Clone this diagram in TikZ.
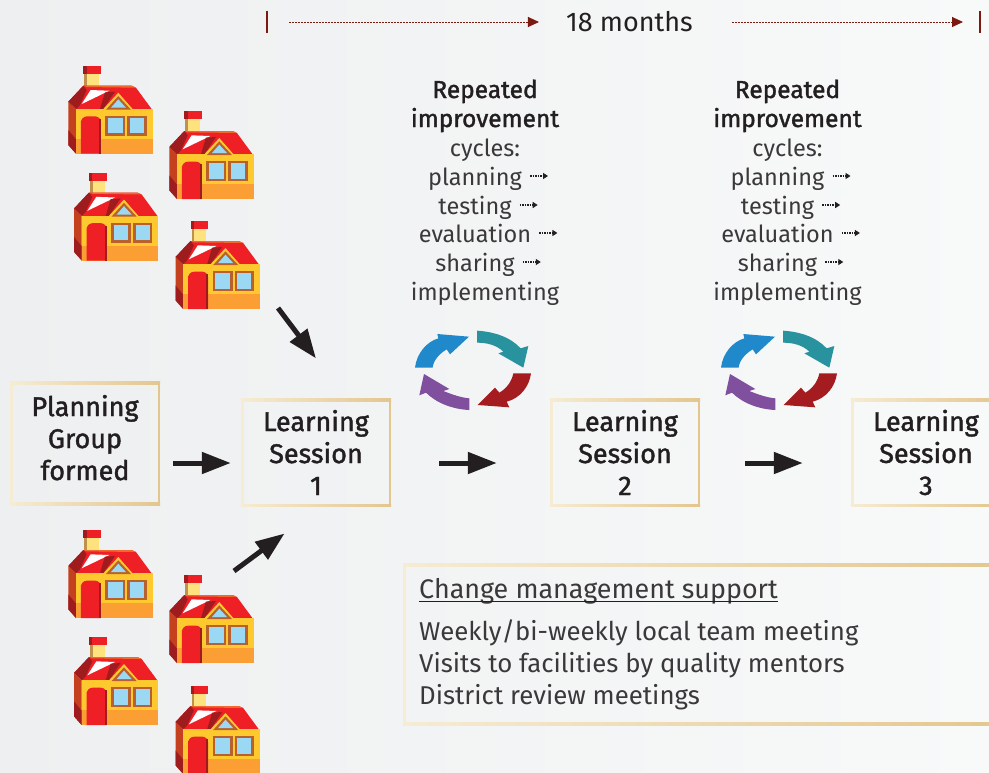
\documentclass[tikz,border=0pt]{standalone}
\usepackage{fontspec}
\setmainfont{Fira Sans}
\newfontfamily\mediumfont[FakeBold=1.5]{Fira Sans}
\usetikzlibrary{arrows.meta}
\definecolor{goldL}{HTML}{F6ECD3}
\definecolor{goldR}{HTML}{E3C68E}
\definecolor{inkdark}{HTML}{231F20}
\definecolor{inklight}{HTML}{3A383A}
\definecolor{wine}{HTML}{7A1A10}
\definecolor{paperL}{HTML}{EEEFF0}
\definecolor{paperR}{HTML}{F8F9F9}
\tikzset{
	stagebox/.style={rectangle,inner sep=0pt,minimum width=150pt,minimum height=108pt,align=center,text=inkdark,font=\mediumfont\fontsize{27}{32}\selectfont},
	plainline/.style={anchor=base,inner sep=0pt,text=inklight,font=\fontsize{23.5}{28}\selectfont},
	boldline/.style={plainline,text=inkdark,font=\mediumfont\fontsize{24.5}{28}\selectfont},
	supportline/.style={anchor=base west,inner sep=0pt,text=inklight,font=\fontsize{25.8}{32}\selectfont},
	flowarrow/.style={-{Triangle[length=29pt,width=21pt]},line width=5pt,color=inkdark},
	timearrow/.style={-{Triangle[length=11pt,width=10pt]},dash pattern=on 2pt off 1pt,line width=1pt,color=wine},
	tinyarrow/.style={-{Triangle[length=5pt,width=6pt]},dash pattern=on 1.5pt off 1pt,line width=1.2pt,color=inkdark},
	house/.pic={
		\begin{scope}[scale=1/3]
		\fill[fill=HouseCap] (45,0) rectangle (98,25);
		\fill[fill=HouseDark] (45,0) rectangle (55,25);
		\fill[fill=HouseFlue] (48,25) rectangle (92,62);
		\fill[fill=HouseTan] (48,25) rectangle (56,62);
		\fill[fill=HouseCap] (0,108) -- (45,60) -- (190,60) -- (203,66) -- (250,130) -- (23,130) -- cycle;
		\fill[fill=HouseTrim] (45,60) -- (190,60) -- (203,66) -- (55,64) -- cycle;
		\fill[fill=HouseDark] (0,108) -- (45,60) -- (55,73) -- (35,118) -- (23,130) -- cycle;
		\fill[fill=white] (40,115) -- (67,73) -- (123,75) -- cycle;
		\fill[fill=HouseDark] (95,130) -- (110,80) -- (140,78) -- (105,130) -- cycle;
		\fill[fill=HouseSide] (0,108) -- (23,130) -- (23,264) -- (0,238) -- cycle;
		\fill[fill=HouseDark] (0,193) -- (23,221) -- (23,264) -- (0,238) -- cycle;
		\fill[fill=HouseWall] (23,130) rectangle (253,219);
		\fill[fill=HouseBase] (23,219) rectangle (253,264);
		\fill[fill=HouseCap] (38,264) -- (38,165) [rounded corners=6pt] -- (38,152) -- (98,152) [sharp corners] -- (98,264) -- cycle;
		\fill[fill=HouseDark] (92,160) rectangle (98,264);
		\fill[fill=HouseFrame] (111,150) rectangle (171,211);
		\fill[fill=HouseGlass] (119,157) rectangle (163,203);
		\fill[fill=HouseFrame] (177,150) rectangle (235,211);
		\fill[fill=HouseGlass] (185,157) rectangle (227,203);
		\fill[fill=HouseWall] (105,130) -- (150,81) -- (193,130) -- cycle;
		\fill[fill=HouseFrame] (113,132) -- (150,91) -- (188,132) -- cycle;
		\fill[fill=HouseGlass] (128,126) -- (150,101) -- (173,126) -- cycle;
		\end{scope}
	},
	cyclearrows/.pic={
		\begin{scope}[scale=1/3]
		\fill[fill=CycleBlue] (45,143) .. controls (50,100) and (80,65) .. (115,55) -- (112,42) -- (207,50) -- (150,103) -- (140,88) .. controls (120,100) and (100,120) .. (98,143) -- cycle;
		\fill[fill=CycleTeal] (231,32) .. controls (280,35) and (330,50) .. (362,85) -- (385,78) -- (370,143) -- (295,100) -- (310,95) .. controls (290,75) and (260,68) .. (231,68) -- cycle;
		\fill[fill=CycleRed] (393,160) .. controls (388,200) and (360,235) .. (320,245) -- (328,262) -- (233,255) -- (285,203) -- (298,218) .. controls (320,205) and (335,185) .. (340,160) -- cycle;
		\fill[fill=CyclePurple] (208,235) .. controls (185,233) and (160,225) .. (130,213) -- (148,207) -- (72,162) -- (58,226) -- (78,218) .. controls (110,250) and (160,268) .. (208,270) -- cycle;
		\end{scope}
	},
	cycletext/.pic={
		\draw (0,98) node (-rep) [boldline] {Repeated};
		\draw (0,127) node (-imp) [boldline] {improvement};
		\draw (0,156) node (-cyc) [plainline] {cycles:};
		\draw (-10,185) node (-plan) [plainline] {planning};
		\draw (-10,214) node (-test) [plainline] {testing};
		\draw (-10,242) node (-eval) [plainline] {evaluation};
		\draw (-10,271) node (-shar) [plainline] {sharing};
		\draw (0,300) node (-impl) [plainline] {implementing};
		\foreach \n in {plan,test,eval,shar}
			\draw[tinyarrow] ([xshift=8pt,yshift=9pt]-\n.base east) -- ++(18,0);
	}
}
\definecolor{HouseCap}{HTML}{EF1F26}
\definecolor{HouseDark}{HTML}{9E1B1E}
\definecolor{HouseFlue}{HTML}{FDE27E}
\definecolor{HouseTan}{HTML}{C0914A}
\definecolor{HouseTrim}{HTML}{F0692F}
\definecolor{HouseSide}{HTML}{C4401F}
\definecolor{HouseWall}{HTML}{FDC92F}
\definecolor{HouseBase}{HTML}{FB9F35}
\definecolor{HouseFrame}{HTML}{B9602F}
\definecolor{HouseGlass}{HTML}{9BD8F4}
\definecolor{CycleBlue}{HTML}{2089CB}
\definecolor{CycleTeal}{HTML}{28939F}
\definecolor{CycleRed}{HTML}{A51C20}
\definecolor{CyclePurple}{HTML}{80509F}
\newcommand{\goldframe}[1]{
	\shade[left color=goldL,right color=goldR] (#1.north west) rectangle ([yshift=-2.7pt]#1.north east);
	\shade[left color=goldL,right color=goldR] (#1.south west) rectangle ([yshift=2.7pt]#1.south east);
	\fill[goldL] (#1.north west) rectangle ([xshift=2.7pt]#1.south west);
	\fill[goldR] (#1.north east) rectangle ([xshift=-2.7pt]#1.south east);
}
\begin{document}
\begin{tikzpicture}[x=1pt,y=-1pt]
	\clip (0,0) rectangle (989,772);
	\shade[left color=paperL,right color=paperR] (0,0) rectangle (989,772);

	\draw (629.5,22) node (months) [inner sep=0pt,text=inkdark,font=\fontsize{27}{30}\selectfont] {18 months};
	\draw (267,10) node (tickL) [inner sep=0pt] {};
	\draw (267,34) node (tickLb) [inner sep=0pt] {};
	\draw (980,10) node (tickR) [inner sep=0pt] {};
	\draw (980,34) node (tickRb) [inner sep=0pt] {};
	\draw[wine,line width=1.2pt] (tickL) -- (tickLb);
	\draw[wine,line width=1.2pt] (tickR) -- (tickRb);
	\draw[timearrow,shorten <=22pt,shorten >=27pt] (tickL |- months) -- (months.west);
	\draw[timearrow,shorten <=39pt,shorten >=17pt] (months.east) -- (tickR |- months);

	\pic at (68.3,65.7) {house};
	\pic at (169.3,111) {house};
	\pic at (74,172.5) {house};
	\pic at (175.5,221) {house};
	\pic at (68.3,530) {house};
	\pic at (169.3,575) {house};
	\pic at (74,637) {house};
	\pic at (175.5,686) {house};

	\pic (textA) at (485,0) {cycletext};
	\pic (textB) at (787.5,0) {cycletext};
	\pic at (400,320) {cyclearrows};
	\pic at (706,320) {cyclearrows};

	\draw (85,443.5) node (planning) [stagebox,minimum height=123pt,text depth=12pt] {Planning\\Group\\formed};
	\draw (316,452.5) node (sessionA) [stagebox] {Learning\\Session\\1};
	\draw (625,452.5) node (sessionB) [stagebox] {Learning\\Session\\2};
	\draw (926,452.5) node (sessionC) [stagebox] {Learning\\Session\\3};
	\goldframe{planning}
	\goldframe{sessionA}
	\goldframe{sessionB}
	\goldframe{sessionC}

	\coordinate (flowrow) at (0,463);
	\coordinate (housesTop) at (278,308);
	\coordinate (housesLow) at (234,571);
	\draw[flowarrow,shorten <=13pt,shorten >=10pt] (planning.east |- flowrow) -- (sessionA.west |- flowrow);
	\draw[flowarrow,shorten <=48pt,shorten >=53pt] (sessionA.east |- flowrow) -- (sessionB.west |- flowrow);
	\draw[flowarrow,shorten <=45pt,shorten >=48pt] (sessionB.east |- flowrow) -- (sessionC.west |- flowrow);
	\draw[flowarrow,shorten >=50pt] (housesTop) -- (sessionA.61);
	\draw[flowarrow,shorten >=45pt] (housesLow) -- (sessionA.-85);

	\draw (706.5,644.5) node (support) [rectangle,inner sep=0pt,minimum width=607pt,minimum height=161pt] {};
	\goldframe{support}
	\draw (419,598) node (supporthead) [supportline,font=\fontsize{26.9}{32}\selectfont] {Change management support};
	\draw[inkdark,line width=1.2pt] ([yshift=-3.5pt]supporthead.base west) -- ([yshift=-3.5pt]supporthead.base east);
	\draw (419,640) node (supportA) [supportline] {Weekly/bi-weekly local team meeting};
	\draw (419,672) node (supportB) [supportline] {Visits to facilities by quality mentors};
	\draw (419,704) node (supportC) [supportline] {District review meetings};
\end{tikzpicture}
\end{document}
